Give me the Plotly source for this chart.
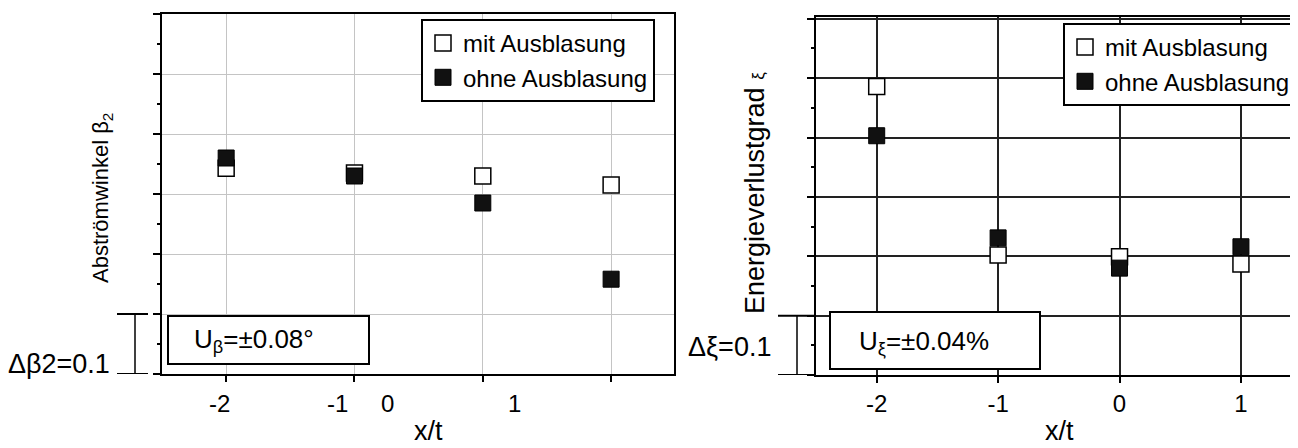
import plotly.graph_objects as go

# x/t positions and measured values (one grid step = 0.1)
x_pos = [-2, -1, 0, 1]
beta_mit = [0.343, 0.335, 0.330, 0.315]
beta_ohne = [0.360, 0.330, 0.285, 0.158]
xi_mit = [0.486, 0.202, 0.199, 0.187]
xi_ohne = [0.403, 0.231, 0.180, 0.216]

# left panel tick labels are printed off their ticks in the original
left_xlabels = ["-2", "-1", "0", "1"]
left_xlabel_pos = [-2.05, -1.135, -0.745, 0.245]
right_xlabels = ["-2", "-1", "0", "1"]

series_names = ["mit Ausblasung", "ohne Ausblasung"]

# page body has an 8px margin, so the figure is shrunk and coordinates shifted
OFF = 8
W, H = 1298 - OFF, 448 - OFF
FONT = "Arial, Liberation Sans, sans-serif"


def px_x(p):
    return (p - OFF) / W


def px_y(p):
    return 1 - (p - OFF) / H


fig = go.Figure()

# left panel: Abströmwinkel
fig.add_trace(go.Scatter(
    x=x_pos, y=beta_mit, mode="markers", name=series_names[0],
    marker=dict(symbol="square", size=16, color="white", line=dict(color="black", width=1.5)),
    xaxis="x", yaxis="y", legend="legend",
))
fig.add_trace(go.Scatter(
    x=x_pos, y=beta_ohne, mode="markers", name=series_names[1],
    marker=dict(symbol="square", size=16, color="#111", line=dict(color="black", width=1)),
    xaxis="x", yaxis="y", legend="legend",
))

# right panel: Energieverlustgrad
fig.add_trace(go.Scatter(
    x=x_pos, y=xi_mit, mode="markers", name=series_names[0],
    marker=dict(symbol="square", size=16, color="white", line=dict(color="black", width=1.5)),
    xaxis="x2", yaxis="y2", legend="legend2",
))
fig.add_trace(go.Scatter(
    x=x_pos, y=xi_ohne, mode="markers", name=series_names[1],
    marker=dict(symbol="square", size=16, color="#111", line=dict(color="black", width=1)),
    xaxis="x2", yaxis="y2", legend="legend2",
))

common_y = dict(
    range=[0, 0.6], dtick=0.1, tick0=0, showticklabels=False,
    ticks="outside", ticklen=7, tickwidth=1.5, tickcolor="black",
    showline=True, linecolor="black", linewidth=2,
    minor=dict(dtick=0.05, ticks="outside", ticklen=3, tickcolor="black", showgrid=False),
    zeroline=False,
)

fig.update_layout(
    width=W, height=H,
    margin=dict(l=0, r=0, t=0, b=0),
    paper_bgcolor="white", plot_bgcolor="white",
    font=dict(family=FONT, color="black", size=24),
    xaxis=dict(
        domain=[px_x(162), px_x(674)], range=[-2.5, 1.49],
        tickvals=x_pos, showticklabels=False,
        ticks="outside", ticklen=6, tickwidth=1.5, tickcolor="black",
        showgrid=True, gridcolor="#c4c4c4", gridwidth=1,
        showline=True, linecolor="black", linewidth=2, mirror=True,
        zeroline=False, anchor="y",
    ),
    yaxis=dict(
        domain=[px_y(374), px_y(14)], anchor="x",
        showgrid=True, gridcolor="#c4c4c4", gridwidth=1, mirror=True,
        **common_y,
    ),
    xaxis2=dict(
        domain=[px_x(816), 1.0], range=[-2.5, 1.47],
        tickvals=x_pos, ticktext=right_xlabels,
        tickfont=dict(size=24),
        ticks="outside", ticklen=6, tickwidth=1.5, tickcolor="black",
        showgrid=True, gridcolor="#222", gridwidth=1.5,
        showline=True, linecolor="black", linewidth=2, mirror=True,
        zeroline=False, anchor="y2",
    ),
    yaxis2=dict(
        domain=[px_y(375), px_y(17)], anchor="x2",
        showgrid=True, gridcolor="#222", gridwidth=1.5,
        **{**common_y, "range": [0, 0.603]},
    ),
    legend=dict(
        x=px_x(421), y=px_y(19), xanchor="left", yanchor="top",
        bgcolor="white", bordercolor="black", borderwidth=2,
        font=dict(size=24), tracegroupgap=0,
    ),
    legend2=dict(
        x=px_x(1063), y=px_y(23), xanchor="left", yanchor="top",
        bgcolor="white", bordercolor="black", borderwidth=2,
        font=dict(size=24), tracegroupgap=0,
    ),
    showlegend=True,
)


def note(x, y, text, size, xref="paper", angle=0):
    return dict(x=x, y=px_y(y), xref=xref, yref="paper", text=text,
                xanchor="center", yanchor="middle", textangle=angle,
                showarrow=False, font=dict(size=size))


annotations = [note(pos, 403, lab, 24, xref="x") for lab, pos in zip(left_xlabels, left_xlabel_pos)]
annotations += [
    note(px_x(428), 431, "x/t", 27),
    note(px_x(1059), 431, "x/t", 27),
    note(px_x(102), 198, "Abströmwinkel β<sub>2</sub>", 22, angle=-90),
    note(px_x(755), 193, "Energieverlustgrad <span style='font-size:17px'>ξ</span>", 27, angle=-90),
    note(px_x(59), 364, "Δβ2=0.1", 27),
    note(px_x(730), 347, "Δξ=0.1", 27),
    note(px_x(254), 340, "U<sub>β</sub>=±0.08°", 26),
    note(px_x(924), 342, "U<sub>ξ</sub>=±0.04%", 26),
]
fig.update_layout(annotations=annotations)

line_k = dict(color="black", width=2)
shapes = [
    # scale bracket, left
    dict(type="line", xref="paper", yref="y", x0=px_x(117), x1=px_x(148), y0=0.1, y1=0.1, line=line_k),
    dict(type="line", xref="paper", yref="y", x0=px_x(117), x1=px_x(148), y0=0, y1=0, line=line_k),
    dict(type="line", xref="paper", yref="y", x0=px_x(135), x1=px_x(135), y0=0, y1=0.1,
         line=dict(color="black", width=1.5)),
    # scale bracket, right
    dict(type="line", xref="paper", yref="y2", x0=px_x(778), x1=px_x(816), y0=0.1, y1=0.1, line=line_k),
    dict(type="line", xref="paper", yref="y2", x0=px_x(778), x1=px_x(816), y0=0, y1=0, line=line_k),
    dict(type="line", xref="paper", yref="y2", x0=px_x(797), x1=px_x(797), y0=0, y1=0.1,
         line=dict(color="black", width=1.5)),
    # uncertainty boxes
    dict(type="rect", xref="paper", yref="paper", x0=px_x(168), x1=px_x(369),
         y0=px_y(364), y1=px_y(316), line=line_k, fillcolor="white", layer="above"),
    dict(type="rect", xref="paper", yref="paper", x0=px_x(830), x1=px_x(1040),
         y0=px_y(369), y1=px_y(312), line=line_k, fillcolor="white", layer="above"),
]
fig.update_layout(shapes=shapes)

fig.write_html("out.html")
